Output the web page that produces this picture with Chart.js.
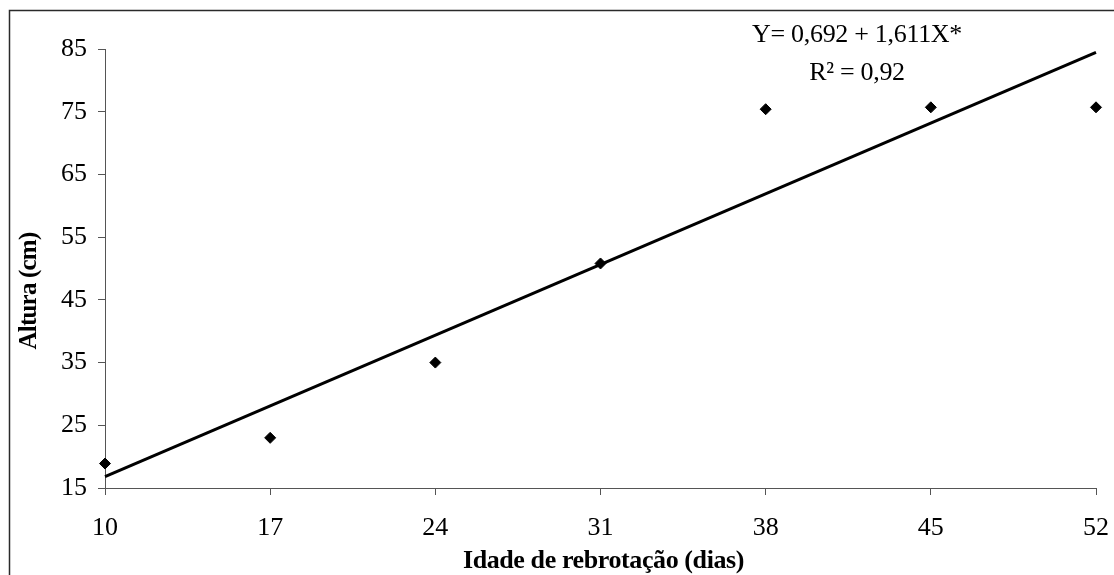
<!DOCTYPE html>
<html lang="pt">
<head>
<meta charset="utf-8">
<title>Altura x Idade de rebrotação</title>
<script src="https://cdn.jsdelivr.net/npm/chart.js@4/dist/chart.umd.min.js"></script>
<style>
  html, body { margin: 0; padding: 0; background: #ffffff; }
  canvas { display: block; }
</style>
</head>
<body>
<canvas id="chart" width="1114" height="575"></canvas>
<script>
// Idade de rebrotação (dias) e altura média observada (cm)
const idades = [10, 17, 24, 31, 38, 45, 52];
const alturas = [18.9, 23.0, 35.0, 50.8, 75.4, 75.7, 75.7];

// Eixos
const xTicks = [10, 17, 24, 31, 38, 45, 52];
const yTicks = [15, 25, 35, 45, 55, 65, 75, 85];

// Regressão linear ajustada: Y = a + bX
const intercepto = 0.692;
const inclinacao = 1.611;
const equacaoTexto = 'Y= 0,692 + 1,611X*';
const r2Texto = 'R² = 0,92';

const tituloX = 'Idade de rebrotação (dias)';
const tituloY = 'Altura (cm)';

const serif = "'Liberation Serif', 'Times New Roman', serif";

// Reta estimada nos extremos do intervalo de idades
const xMin = idades[0];
const xMax = idades[idades.length - 1];
const reta = [
  { x: xMin, y: intercepto + inclinacao * xMin },
  { x: xMax, y: intercepto + inclinacao * xMax }
];

const pontos = idades.map((x, i) => ({ x: x, y: alturas[i] }));

// Moldura, títulos dos eixos e equação
const anotacoes = {
  id: 'anotacoes',
  afterDraw(chart) {
    const ctx = chart.ctx;
    const area = chart.chartArea;
    ctx.save();

    // moldura externa (lados esquerdo e superior)
    ctx.strokeStyle = '#2a2a2a';
    ctx.lineWidth = 1.5;
    ctx.beginPath();
    ctx.moveTo(9.5, chart.height);
    ctx.lineTo(9.5, 10.5);
    ctx.lineTo(chart.width, 10.5);
    ctx.stroke();

    ctx.fillStyle = '#000000';

    // equação da regressão
    ctx.font = '26px ' + serif;
    ctx.textAlign = 'center';
    ctx.textBaseline = 'alphabetic';
    if ('letterSpacing' in ctx) ctx.letterSpacing = '-0.3px';
    ctx.fillText(equacaoTexto, 857, 42);
    ctx.fillText(r2Texto, 857, 80);

    // título do eixo X
    ctx.font = 'bold 26px ' + serif;
    if ('letterSpacing' in ctx) ctx.letterSpacing = '-0.4px';
    ctx.fillText(tituloX, (area.left + area.right) / 2 + 3, 568);

    // título do eixo Y
    ctx.font = 'bold 25px ' + serif;
    if ('letterSpacing' in ctx) ctx.letterSpacing = '-0.8px';
    ctx.translate(36, 291);
    ctx.rotate(-Math.PI / 2);
    ctx.fillText(tituloY, 0, 0);

    ctx.restore();
  }
};

new Chart(document.getElementById('chart'), {
  type: 'scatter',
  data: {
    datasets: [
      {
        type: 'line',
        label: 'Estimado',
        data: reta,
        borderColor: '#000000',
        borderWidth: 3,
        pointRadius: 0,
        fill: false,
        tension: 0,
        clip: false,
        order: 2
      },
      {
        label: 'Observado',
        data: pontos,
        pointStyle: 'rectRot',
        pointRadius: 5.5,
        pointBorderWidth: 1,
        pointBackgroundColor: '#000000',
        pointBorderColor: '#000000',
        clip: false,
        order: 1
      }
    ]
  },
  options: {
    responsive: false,
    animation: false,
    devicePixelRatio: 1,
    layout: { padding: { left: 0, top: 49, right: 18, bottom: 0 } },
    plugins: {
      legend: { display: false },
      tooltip: { enabled: false },
      title: { display: false }
    },
    scales: {
      x: {
        type: 'linear',
        min: xTicks[0],
        max: xTicks[xTicks.length - 1],
        afterBuildTicks(scale) { scale.ticks = xTicks.map(v => ({ value: v })); },
        afterFit(scale) {
          scale.height = 87;
          scale.paddingLeft = 0;
          scale.paddingRight = 0;
        },
        ticks: {
          color: '#000000',
          font: { family: serif, size: 26 },
          padding: 18,
          maxRotation: 0,
          autoSkip: false
        },
        grid: {
          drawOnChartArea: false,
          drawTicks: true,
          tickLength: 7,
          tickWidth: 1,
          tickColor: '#555555'
        },
        border: { display: true, color: '#555555', width: 1 }
      },
      y: {
        type: 'linear',
        min: yTicks[0],
        max: yTicks[yTicks.length - 1],
        afterBuildTicks(scale) { scale.ticks = yTicks.map(v => ({ value: v })); },
        afterFit(scale) {
          scale.width = 105;
          scale.paddingTop = 0;
          scale.paddingBottom = 0;
        },
        ticks: {
          color: '#000000',
          font: { family: serif, size: 26 },
          padding: 11,
          autoSkip: false
        },
        grid: {
          drawOnChartArea: false,
          drawTicks: true,
          tickLength: 7,
          tickWidth: 1,
          tickColor: '#555555'
        },
        border: { display: true, color: '#555555', width: 1 }
      }
    }
  },
  plugins: [anotacoes]
});
</script>
</body>
</html>
